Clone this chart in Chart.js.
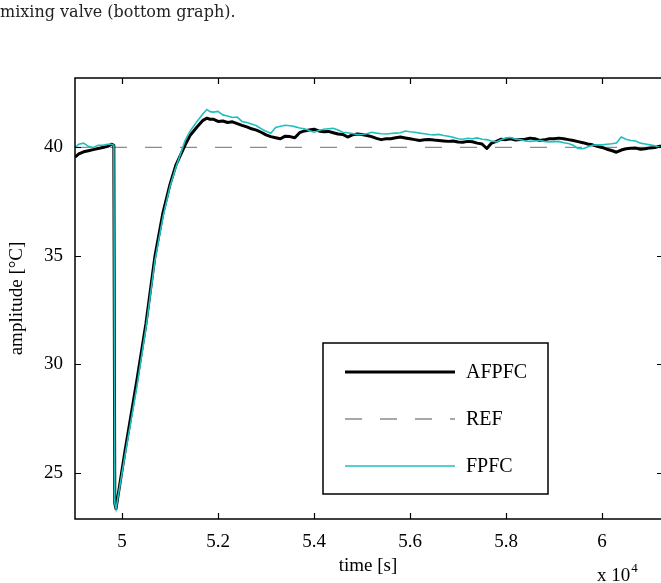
<!DOCTYPE html>
<html>
<head>
<meta charset="utf-8">
<script src="https://cdn.jsdelivr.net/npm/chart.js@4.4.1/dist/chart.umd.min.js"></script>
<style>
  html, body { margin:0; padding:0; background:#fff; overflow:hidden; }
  #wrap { position:relative; width:661px; height:583px; overflow:hidden; }
  #caption { position:absolute; left:0; top:2px; font-family:'DejaVu Serif', serif; font-size:16px; color:#222; white-space:nowrap; }
  canvas { position:absolute; left:0; top:0; }
</style>
</head>
<body>
<div id="wrap">
  <canvas id="c" width="680" height="583"></canvas>
  <div id="caption">mixing valve (bottom graph).</div>
</div>
<script>
// ---- data (time in seconds) ----
const times = [
  49021, 49100, 49200, 49300, 49400, 49500, 49600, 49700, 49780, 49830, 49850, 49875,
  50062, 50312, 50500, 50687, 50854, 51000, 51125, 51312, 51417, 51562, 51687, 51770, 51833,
  51900, 52000, 52100, 52200, 52300, 52400, 52500, 52600, 52700, 52800,
  52900, 53000, 53100, 53200, 53300, 53400, 53500, 53600, 53700, 53800,
  53900, 54000, 54100, 54200, 54300, 54400, 54500, 54600, 54700, 54800,
  54900, 55000, 55100, 55200, 55300, 55400, 55500, 55600, 55700, 55800,
  55900, 56000, 56100, 56200, 56300, 56400, 56500, 56600, 56700, 56800,
  56900, 57000, 57100, 57200, 57300, 57400, 57500, 57600, 57700, 57800,
  57900, 58000, 58100, 58200, 58300, 58400, 58500, 58600, 58700, 58800,
  58900, 59000, 59100, 59200, 59300, 59400, 59500, 59600, 59700, 59800,
  59900, 60000, 60100, 60200, 60300, 60400, 60500, 60600, 60700, 60800,
  60900, 61000, 61100, 61200, 61270
];
const afpfc = [
  39.55, 39.7, 39.8, 39.85, 39.9, 39.95, 40.0, 40.05, 40.15, 40.1, 23.6, 23.35,
  26.0, 29.3, 31.9, 35.0, 37.0, 38.3, 39.2, 40.1, 40.55, 40.94, 41.25, 41.35, 41.3,
  41.3, 41.2, 41.22, 41.15, 41.18, 41.1, 41.02, 40.95, 40.86, 40.8,
  40.7, 40.58, 40.5, 40.45, 40.4, 40.52, 40.5, 40.45, 40.68, 40.76,
  40.8, 40.84, 40.76, 40.72, 40.74, 40.68, 40.62, 40.6, 40.48, 40.58,
  40.62, 40.6, 40.55, 40.5, 40.42, 40.36, 40.4, 40.4, 40.45, 40.48,
  40.44, 40.4, 40.36, 40.32, 40.35, 40.37, 40.34, 40.32, 40.3, 40.28,
  40.3, 40.25, 40.24, 40.28, 40.26, 40.2, 40.16, 39.95, 40.2, 40.28,
  40.38, 40.36, 40.4, 40.34, 40.37, 40.38, 40.43, 40.4, 40.32, 40.35,
  40.4, 40.4, 40.43, 40.4, 40.36, 40.32, 40.27, 40.22, 40.16, 40.12,
  40.05, 40.0, 39.92, 39.86, 39.78, 39.88, 39.94, 39.96, 39.97, 39.92,
  39.94, 39.98, 40.0, 40.06, 40.05
];
const fpfc = [
  40.0, 40.15, 40.2, 40.05, 40.0, 40.1, 40.1, 40.15, 40.15, 40.1, 23.6, 23.35,
  25.8, 29.0, 31.7, 34.8, 36.8, 38.2, 39.1, 40.3, 40.75, 41.2, 41.55, 41.75, 41.65,
  41.63, 41.66, 41.5, 41.45, 41.38, 41.4, 41.2, 41.15, 41.08, 41.0,
  40.86, 40.75, 40.65, 40.92, 40.98, 41.02, 41.0, 40.96, 40.9, 40.86,
  40.78, 40.7, 40.78, 40.84, 40.86, 40.88, 40.8, 40.7, 40.68, 40.64,
  40.6, 40.6, 40.63, 40.7, 40.66, 40.63, 40.62, 40.64, 40.66, 40.68,
  40.76, 40.72, 40.7, 40.66, 40.63, 40.6, 40.58, 40.6, 40.55, 40.52,
  40.47, 40.4, 40.38, 40.42, 40.4, 40.44, 40.38, 40.36, 40.3, 40.25,
  40.35, 40.44, 40.46, 40.38, 40.36, 40.3, 40.28, 40.3, 40.32, 40.28,
  40.25, 40.27, 40.28, 40.22, 40.18, 40.1, 39.95, 39.94, 40.02, 40.1,
  40.12, 40.12, 40.15, 40.17, 40.2, 40.48, 40.38, 40.32, 40.3, 40.2,
  40.16, 40.12, 40.08, 40.0, 40.0
];
const refTimes = [49021, 61270];
const refValues = [40, 40];
const xTickValues = [50000, 52000, 54000, 56000, 58000, 60000];
const xTickLabels = ['5', '5.2', '5.4', '5.6', '5.8', '6'];
const yTickValues = [25, 30, 35, 40];
const yTickLabels = ['25', '30', '35', '40'];
const seriesNames = ['AFPFC', 'REF', 'FPFC'];

const SERIF = "'Liberation Serif', 'Times New Roman', serif";
const CYAN = '#1fbfbf';

const toXY = (xs, ys) => xs.map((x, i) => ({x, y: ys[i]}));

const framePlugin = {
  id: 'frame',
  afterDatasetsDraw(chart) {
    const ctx = chart.ctx;
    const a = chart.chartArea;
    const xs = chart.scales.x, ys = chart.scales.y;
    ctx.save();
    // border
    ctx.strokeStyle = '#000';
    ctx.lineWidth = 1.5;
    ctx.setLineDash([]);
    ctx.strokeRect(a.left, a.top, a.right - a.left, a.bottom - a.top);
    // inward ticks
    ctx.lineWidth = 1.2;
    const TL = 6;
    ctx.beginPath();
    xTickValues.forEach(v => {
      const px = Math.round(xs.getPixelForValue(v)) + 0.5;
      ctx.moveTo(px, a.bottom); ctx.lineTo(px, a.bottom - TL);
      ctx.moveTo(px, a.top); ctx.lineTo(px, a.top + TL);
    });
    yTickValues.forEach(v => {
      const py = Math.round(ys.getPixelForValue(v)) + 0.5;
      ctx.moveTo(a.left, py); ctx.lineTo(a.left + TL, py);
      ctx.moveTo(a.right, py); ctx.lineTo(a.right - TL, py);
    });
    ctx.stroke();

    // legend
    const lx = 323, ly = 343, lw = 225, lh = 151;
    ctx.fillStyle = '#fff';
    ctx.fillRect(lx, ly, lw, lh);
    ctx.lineWidth = 1.5;
    ctx.strokeStyle = '#000';
    ctx.strokeRect(lx, ly, lw, lh);
    const rows = [
      {name: seriesNames[0], color: '#000', width: 3, dash: []},
      {name: seriesNames[1], color: '#8c8c8c', width: 1.3, dash: [17, 18]},
      {name: seriesNames[2], color: CYAN, width: 1.6, dash: []}
    ];
    const rowY = [372, 419, 466];
    ctx.font = '20px ' + SERIF;
    ctx.textAlign = 'left';
    ctx.textBaseline = 'middle';
    rows.forEach((r, i) => {
      ctx.beginPath();
      ctx.strokeStyle = r.color;
      ctx.lineWidth = r.width;
      ctx.setLineDash(r.dash);
      ctx.moveTo(345, rowY[i]); ctx.lineTo(455, rowY[i]);
      ctx.stroke();
      ctx.setLineDash([]);
      ctx.fillStyle = '#000';
      ctx.fillText(r.name, 466, rowY[i] + 1);
    });

    // axis titles
    ctx.fillStyle = '#000';
    ctx.font = '19px ' + SERIF;
    ctx.textAlign = 'center';
    ctx.textBaseline = 'middle';
    ctx.fillText('time [s]', (a.left + a.right) / 2 - 1, 566);
    ctx.save();
    ctx.translate(17, (a.top + a.bottom) / 2);
    ctx.rotate(-Math.PI / 2);
    ctx.fillText('amplitude [°C]', 0, 0);
    ctx.restore();

    // exponent label
    ctx.textAlign = 'left';
    ctx.textBaseline = 'alphabetic';
    ctx.font = '19px ' + SERIF;
    ctx.fillText('x 10', 597, 581);
    const w = ctx.measureText('x 10').width;
    ctx.font = '13px ' + SERIF;
    ctx.fillText('4', 597 + w + 1, 572);
    ctx.restore();
  }
};

new Chart(document.getElementById('c'), {
  type: 'line',
  data: {
    datasets: [
      {label: seriesNames[2], data: toXY(times, fpfc), borderColor: CYAN, borderWidth: 1.6, pointRadius: 0, tension: 0, fill: false},
      {label: seriesNames[0], data: toXY(times, afpfc), borderColor: '#000', borderWidth: 3, pointRadius: 0, tension: 0, fill: false, borderJoinStyle: 'round'},
      {label: seriesNames[1], data: toXY(refTimes, refValues), borderColor: '#8c8c8c', borderWidth: 1.3, borderDash: [17, 18], pointRadius: 0, tension: 0, fill: false}
    ]
  },
  options: {
    responsive: false,
    animation: false,
    events: [],
    layout: {padding: {left: 0, right: 17, top: 78, bottom: 0}},
    plugins: {legend: {display: false}, tooltip: {enabled: false}, title: {display: false}},
    scales: {
      x: {
        type: 'linear',
        min: 49021, max: 61270,
        grid: {display: false, drawTicks: false},
        border: {display: false},
        afterBuildTicks: s => { s.ticks = xTickValues.map(v => ({value: v})); },
        afterFit: s => { s.height = 64; },
        ticks: {
          padding: 12,
          color: '#000',
          font: {family: SERIF, size: 19},
          maxRotation: 0,
          autoSkip: false,
          callback: (v) => { const i = xTickValues.indexOf(v); return i >= 0 ? xTickLabels[i] : ''; }
        }
      },
      y: {
        type: 'linear',
        min: 22.88, max: 43.2,
        grid: {display: false, drawTicks: false},
        border: {display: false},
        afterBuildTicks: s => { s.ticks = yTickValues.map(v => ({value: v})); },
        afterFit: s => { s.width = 75; },
        ticks: {
          padding: 12,
          color: '#000',
          font: {family: SERIF, size: 19},
          autoSkip: false,
          callback: (v) => { const i = yTickValues.indexOf(v); return i >= 0 ? yTickLabels[i] : ''; }
        }
      }
    }
  },
  plugins: [framePlugin]
});
</script>
</body>
</html>
